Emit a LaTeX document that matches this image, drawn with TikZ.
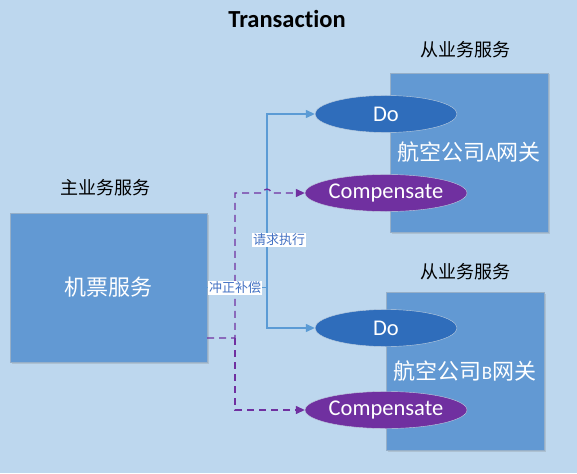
\documentclass[tikz,border=0pt]{standalone}
\usepackage{fontspec}
\setmainfont[Ligatures=NoCommon]{Carlito}
\newfontfamily\cjk{Noto Sans CJK SC}
\usetikzlibrary{arrows.meta,shapes.geometric,positioning,shadows,calc}
\definecolor{bgblue}{RGB}{189,215,238}
\definecolor{boxblue}{RGB}{98,153,211}
\definecolor{boxedge}{RGB}{150,175,200}
\definecolor{doblue}{RGB}{47,109,187}
\definecolor{comppurple}{RGB}{112,48,160}
\definecolor{linkblue}{RGB}{91,155,213}
\definecolor{labelblue}{RGB}{68,114,196}
\tikzstyle{svcbox} = [rectangle, inner sep=0pt, draw=boxedge, fill=boxblue, text=white, drop shadow={shadow xshift=1.5pt, shadow yshift=-1.5pt, opacity=0.25}]
\tikzstyle{action} = [ellipse, minimum width=142pt, minimum height=37pt, inner sep=0pt, draw=boxedge!60!white, text=white, font=\fontsize{22.5}{26}\selectfont]
\tikzstyle{svclabel} = [font=\cjk\fontsize{18}{22}\selectfont]
\tikzstyle{linklabel} = [fill=white, inner sep=1pt, text=labelblue, font=\cjk\fontsize{13}{15}\selectfont]
\tikzstyle{req} = [line width=1.3pt, linkblue, -{Triangle[length=9pt,width=8pt]}]
\tikzstyle{undo} = [line width=1.3pt, comppurple, dash pattern=on 7pt off 5pt, -{Triangle[length=9pt,width=8pt]}]

\begin{document}
\begin{tikzpicture}[x=1pt, y=-1pt]
    \fill[bgblue] (0,0) rectangle (577,473);
    \useasboundingbox (0,0) rectangle (577,473);

    % Title
    \node[font=\bfseries\fontsize{24.5}{28}\selectfont] (title) at (287,19) {Transaction};

    % Main service
    \node[svcbox, minimum width=197pt, minimum height=149pt] (main) at (108.5,287.5) {\cjk\fontsize{22}{26}\selectfont 机票服务};
    \node[svclabel] (mainlbl) at (105,188) {主业务服务};

    % Gateway A
    \node[svcbox, minimum width=158pt, minimum height=159pt] (gwa) at (469,152.5) {\fontsize{22}{26}\selectfont{\cjk 航空公司}{\fontsize{19}{22}\selectfont A}{\cjk 网关}};
    \node[svclabel] (gwalbl) at (465,50) {从业务服务};

    % Gateway B
    \node[svcbox, minimum width=158pt, minimum height=158pt] (gwb) at (465,371) {\fontsize{22}{26}\selectfont{\cjk 航空公司}{\fontsize{19}{22}\selectfont B}{\cjk 网关}};
    \node[svclabel] (gwblbl) at (465,272) {从业务服务};

    % Actions
    \node[action, fill=doblue] (doa) at (386,114) {Do};
    \node[action, fill=comppurple] (compa) at (386,193) {Compensate};
    \node[action, fill=doblue] (dob) at (386,328) {Do};
    \node[action, fill=comppurple] (compb) at (386,410) {Compensate};

    % Arrows
    \coordinate (fork) at (267,287.5);
    \coordinate (cfork) at (235,338);
    \draw[line width=1.3pt, linkblue] (main.east) -- (fork);
    \draw[req] (fork) |- (doa.west);
    \draw[req] (fork) |- (dob.west);

    \draw[undo] (main.east |- cfork) -- (cfork) |- ($(fork |- compa.west)+(-4,0)$) arc[start angle=180, end angle=0, radius=4pt] -- (compa.west);
    \draw[undo] (cfork) |- (compb.west);

    \node[linklabel] (reqlbl) at (279,240) {请求执行};
    \node[linklabel] (undolbl) at (235,288) {冲正补偿};
\end{tikzpicture}
\end{document}
